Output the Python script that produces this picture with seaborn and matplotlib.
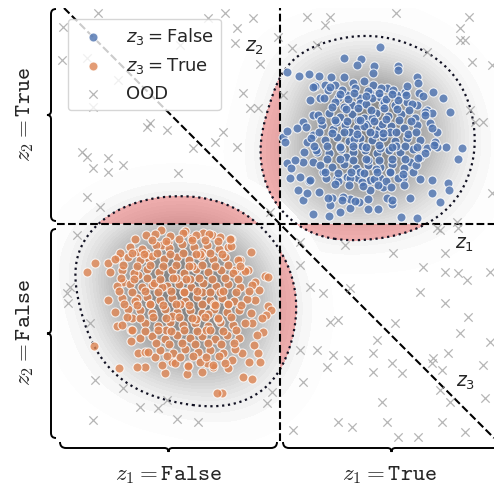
import numpy as np
import pandas as pd
import matplotlib
matplotlib.use("Agg")
import matplotlib.pyplot as plt
import seaborn as sns
from matplotlib.path import Path
from matplotlib.patches import PathPatch
from matplotlib.colors import ListedColormap
import matplotlib.transforms as mtransforms

# ---------------- data (units: reference pixels, origin at the crossing) ----------------
blue_pts = [
    (100,177),(64,166),(81,165),(77,159),(94,158),(93,151),(118,158),(118,154),
    (7,152),(19,148),(29,150),(39,148),(51,147),(64,147),(55,139),(35,138),(45,139),(73,141),(84,143),(93,139),
    (137,147),(138,141),(139,131),(153,132),(163,126),(170,112),(147,114),(152,111),
    (182,76),(178,65),(166,77),(157,77),
    (152,44),(168,41),(169,34),(160,22),(152,31),(130,26),(121,7),(137,6),
    (3,87),(7,93),(5,82),(7,61),(10,46),(18,34),(23,24),(33,10),(49,8),(60,12),(70,16),(88,15),(98,15),
    (112,20),(107,26),(103,37),(90,34),(79,22),(70,25),(63,27),(52,26),(50,19),(39,32),(27,31),(29,43),
    (20,47),(11,56),(23,62),(15,64),
    (23,102),(17,96),(33,109),(33,89),(27,82),(37,72),(33,62),(43,52),(57,46),(67,47),(78,46),(90,44),
    (100,46),(110,52),(123,46),(133,52),(130,62),(140,67),(147,76),(155,82),(157,92),(150,101),(145,112),(137,119),
    (33,137),(40,126),(48,134),(58,126),(67,129),(72,119),(80,126),(90,131),(100,127),(107,136),(117,129),
    (127,122),(125,132),(115,119),(103,119),
    (50,137),(62,134),(75,136),(88,133),(101,136),(113,134),(127,138),
    (30,124),(44,126),(55,122),(68,125),(80,121),(92,126),(104,122),(118,124),(132,120),
    (38,109),(49,111),(60,107),(72,110),(84,106),(96,111),(108,108),(121,110),(135,106),(145,109),
    (26,97),(42,99),(53,95),(65,99),(77,96),(88,100),(99,95),(111,98),(124,96),(137,99),(152,96),
    (31,86),(45,84),(57,87),(69,83),(80,86),(92,84),(103,87),(115,83),(127,86),(140,84),
    (24,72),(36,74),(49,71),(61,75),(73,72),(85,74),(97,71),(109,74),(120,72),(133,75),(145,71),
    (40,59),(52,57),(64,60),(76,56),(88,59),(100,57),(112,60),(124,56),(136,59),
    (30,44),(46,46),(58,43),(70,46),(82,42),(94,45),(106,43),(118,46),(140,45),
    (48,26),(62,24),(75,23),(88,25),(112,24),
    (70,92),(82,78),(95,90),(78,104),(60,78),(100,76),(88,64),(66,67),(110,92),(84,98),(74,85),(92,106),
    (56,102),(116,78),(102,100),(80,52),(96,55),(64,117),(86,120),(106,125),
    (60,130),(74,131),(86,128),(99,131),(112,130),(126,129),(143,128),
    (52,117),(66,115),(78,116),(91,114),(104,116),(117,115),(129,114),
    (41,104),(55,104),(67,103),(80,104),(94,103),(106,105),(119,104),(131,103),
    (39,92),(52,91),(64,92),(77,90),(90,92),(103,91),(116,92),(128,90),(136,92),
    (34,78),(47,78),(60,77),(73,78),(86,77),(99,79),(112,77),(125,78),(137,77),(154,79),
    (47,65),(60,65),(73,64),(86,65),(99,64),(112,65),(125,65),(138,66),
    (45,52),(58,51),(71,52),(84,51),(97,52),(110,52),(123,50),
    (55,40),(69,39),(83,38),(98,39),(111,37),(124,39),
]

orange_pts = [
    (-119,-6),(-95,-7),(-134,-11),(-145,-15),(-77,-9),(-68,-11),(-49,-15),(-29,-28),(-35,-46),(-15,-52),
    (-12,-53),(-21,-66),(-12,-82),(-9,-86),(-14,-91),(-17,-108),(-23,-111),(-26,-121),(-22,-129),(-20,-138),
    (-31,-138),(-37,-153),(-28,-155),(-58,-169),(-63,-169),(-52,-144),(-67,-143),(-78,-148),(-93,-150),
    (-115,-149),(-135,-143),(-143,-143),(-161,-144),(-186,-122),(-163,-102),(-149,-117),(-142,-129),(-149,-106),
    (-193,-48),(-185,-39),(-172,-39),(-162,-33),(-160,-29),(-142,-28),(-132,-34),(-157,-58),(-152,-85),
    (-143,-74),(-148,-94),(-142,-51),(-128,-61),(-134,-29),(-118,-21),(-112,-18),(-88,-14),(-78,-28),
    (-52,-23),(-40,-36),(-45,-46),(-32,-46),(-25,-58),(-25,-76),(-18,-94),(-28,-99),(-38,-129),(-48,-136),
    (-73,-139),(-92,-141),(-108,-138),(-125,-133),(-135,-128),
    (-125,-10),(-110,-12),(-97,-9),(-84,-11),(-71,-10),(-60,-13),
    (-150,-23),(-138,-25),(-124,-21),(-111,-24),(-98,-20),(-86,-23),(-73,-21),(-61,-25),(-49,-22),
    (-165,-35),(-152,-33),(-140,-36),(-128,-32),(-116,-35),(-103,-33),(-91,-36),(-79,-32),(-67,-35),(-55,-33),(-42,-36),
    (-170,-48),(-158,-46),(-146,-49),(-133,-45),(-121,-48),(-108,-46),(-96,-49),(-84,-45),(-72,-48),(-59,-46),(-47,-49),(-35,-47),
    (-163,-62),(-150,-60),(-138,-63),(-126,-59),(-113,-62),(-101,-60),(-89,-63),(-77,-59),(-64,-62),(-52,-60),(-40,-63),(-28,-61),
    (-172,-76),(-158,-74),(-145,-77),(-133,-73),(-120,-76),(-108,-74),(-95,-77),(-83,-73),(-70,-76),(-58,-74),(-46,-77),(-33,-75),
    (-165,-88),(-140,-86),(-128,-89),(-115,-85),(-103,-88),(-90,-86),(-78,-89),(-66,-85),(-53,-88),(-41,-86),(-29,-89),
    (-158,-101),(-135,-99),(-122,-102),(-110,-98),(-97,-101),(-85,-99),(-72,-102),(-60,-98),(-47,-101),(-35,-99),
    (-140,-114),(-128,-112),(-115,-115),(-103,-111),(-90,-114),(-78,-112),(-65,-115),(-53,-111),(-41,-114),
    (-132,-128),(-120,-126),(-107,-129),(-95,-125),(-82,-128),(-70,-126),(-57,-129),(-45,-125),
    (-118,-141),(-105,-139),(-92,-142),(-80,-138),(-67,-141),(-55,-139),
    (-90,-55),(-78,-68),(-66,-80),(-100,-80),(-84,-95),(-72,-90),(-96,-68),(-108,-92),(-60,-68),(-118,-63),
    (-88,-42),(-74,-106),(-104,-54),(-62,-95),(-52,-80),(-114,-106),(-80,-30),(-130,-80),
    (-128,-16),(-114,-17),(-101,-15),(-88,-16),(-75,-16),(-62,-17),(-50,-15),
    (-148,-29),(-136,-30),(-123,-29),(-110,-30),(-97,-29),(-84,-30),(-70,-29),(-58,-30),
    (-157,-41),(-143,-42),(-130,-41),(-117,-42),(-104,-41),(-91,-42),(-78,-41),(-65,-42),(-52,-41),(-40,-42),
    (-159,-54),(-146,-55),(-133,-54),(-120,-55),(-107,-54),(-94,-55),(-81,-54),(-68,-55),(-55,-54),(-42,-55),
    (-161,-67),(-148,-68),(-135,-67),(-122,-68),(-109,-67),(-96,-68),(-83,-67),(-70,-68),(-57,-67),(-44,-68),(-31,-67),
    (-156,-80),(-143,-81),(-130,-80),(-117,-81),(-104,-80),(-91,-81),(-78,-80),(-65,-81),(-52,-80),(-39,-81),
    (-153,-93),(-140,-94),(-127,-93),(-114,-94),(-101,-93),(-88,-94),(-75,-93),(-62,-94),(-49,-93),
    (-148,-106),(-135,-107),(-122,-106),(-109,-107),(-96,-106),(-83,-107),(-70,-106),(-57,-107),(-44,-106),
    (-124,-119),(-111,-120),(-98,-119),(-85,-120),(-72,-119),(-59,-120),(-46,-119),
    (-113,-132),(-100,-133),(-87,-132),(-74,-133),(-61,-132),
]

ood_pts = [
    (-182,211),(-217,197),(-218,164),(-187,117),(-162,144),(-193,166),(-100,179),(-72,206),(-55,211),
    (-43,196),(-45,181),(-27,206),(-37,131),(-30,116),(-22,116),(-130,101),(-133,97),(-113,94),(-57,92),
    (-65,82),(-43,77),(-87,76),(-198,72),(-193,67),(-187,56),(-172,66),(-172,52),(-157,59),(-102,51),
    (-193,27),(-180,17),(-20,160),(-10,12),
    (27,207),(45,199),(50,207),(116,211),(189,207),(180,196),(180,184),(185,184),(192,162),(212,159),
    (-2,187),(12,176),(37,179),(147,172),(3,129),(190,114),(203,102),(195,102),(212,31),(177,2),
    (160,-6),(113,-29),(65,-21),(165,-29),(178,-4),(157,-4),(165,-48),(178,-49),(187,-56),(210,-48),
    (143,-43),(20,-41),(30,-63),(43,-69),(70,-64),(140,-68),(165,-79),(188,-93),(180,-109),(50,-98),
    (58,-96),(115,-99),(97,-116),(210,-118),(20,-126),(37,-126),(53,-131),(68,-136),(47,-143),(93,-129),
    (93,-148),(112,-139),(122,-149),(152,-139),(153,-134),(168,-129),(203,-141),(162,-146),(23,-158),
    (-8,-168),(-13,-179),(102,-178),(160,-166),(170,-178),(205,-174),(13,-206),(58,-198),(72,-203),
    (107,-198),(162,-198),(185,-208),(138,-213),(118,-213),(20,-18),
    (-203,-11),(-210,-63),(-213,-69),(-212,-79),(-190,-99),(-185,-156),(-157,-164),(-140,-183),
    (-122,-184),(-113,-176),(-103,-195),(-82,-198),(-187,-196),
]

legend_labels = [r"$z_3 = \mathrm{False}$", r"$z_3 = \mathrm{True}$", "OOD"]
line_labels = ["$z_1$", "$z_2$", "$z_3$"]
x_group_labels = [r"$z_1 = \mathtt{False}$", r"$z_1 = \mathtt{True}$"]
y_group_labels = [r"$z_2 = \mathtt{True}$", r"$z_2 = \mathtt{False}$"]

# ---------------- styling ----------------
sns.set_theme(style="white")
plt.rcParams["font.family"] = ["DejaVu Sans"]

BLUE = "#4C72B0"
ORANGE = "#DD8452"
RED = "#ec5c5c"
LEVEL = 0.08
BW = 1.85

W, H = 494, 487
fig = plt.figure(figsize=(W / 100, H / 100), dpi=100)
ax_l, ax_r, ax_t, ax_b = 57, 494, 8, 441
ax = fig.add_axes([ax_l / W, 1 - ax_b / H, (ax_r - ax_l) / W, (ax_b - ax_t) / H])

bx, by = np.array(blue_pts, float).T
ox, oy = np.array(orange_pts, float).T
qx, qy = np.array(ood_pts, float).T
clusters = [
    (pd.DataFrame({"x": bx, "y": by}), [(-400, -400), (400, -400), (400, 0), (0, 0), (0, 400), (-400, 400)]),
    (pd.DataFrame({"x": ox, "y": oy}), [(400, 400), (-400, 400), (-400, 0), (0, 0), (0, -400), (400, -400)]),
]

grey_cmap = sns.blend_palette(["#ffffff", "#e6e6e6", "#cbcbcb", "#b0b0b0", "#959595", "#828282"], as_cmap=True)
for df, _ in clusters:
    sns.kdeplot(data=df, x="x", y="y", fill=True, levels=40, thresh=0.006, cmap=grey_cmap,
                bw_adjust=BW, gridsize=200, ax=ax, zorder=0)

for df, outside in clusters:
    n0 = len(ax.collections)
    sns.kdeplot(data=df, x="x", y="y", fill=True, levels=[LEVEL, 1], cmap=ListedColormap([RED]),
                bw_adjust=BW, gridsize=200, ax=ax, zorder=1, alpha=0.45)
    clip_patch = PathPatch(Path(outside + [outside[0]], closed=True), transform=ax.transData)
    for c in ax.collections[n0:]:
        c.set_clip_path(clip_patch)
    sns.kdeplot(data=df, x="x", y="y", levels=[LEVEL], color="#111122", linestyles=":",
                linewidths=1.6, bw_adjust=BW, gridsize=200, ax=ax, zorder=2)

ax.axvline(0, color="black", ls="--", lw=1.5, zorder=3)
ax.axhline(0, color="black", ls="--", lw=1.5, zorder=3)
ax.axline((0, 0), slope=-1, color="black", ls="--", lw=1.5, zorder=3)

ax.scatter(qx, qy, marker="x", s=36, color="0.62", linewidths=0.9, alpha=0.75, zorder=3.5, label=legend_labels[2])
sns.scatterplot(x=bx, y=by, color=BLUE, s=42, edgecolor="white", linewidth=0.8, alpha=0.8, ax=ax, zorder=4, label=legend_labels[0])
sns.scatterplot(x=ox, y=oy, color=ORANGE, s=42, edgecolor="white", linewidth=0.8, alpha=0.8, ax=ax, zorder=4, label=legend_labels[1])

ax.set_xlim(ax_l - 280, ax_r - 280)
ax.set_ylim(224 - ax_b, 224 - ax_t)
ax.set_axis_off()

handles, labels = ax.get_legend_handles_labels()
order = [labels.index(l) for l in legend_labels]
leg = ax.legend([handles[i] for i in order], [labels[i] for i in order], loc="upper left",
                fontsize=13, framealpha=0.8, edgecolor="0.8", borderaxespad=0.6)
leg.set_zorder(10)

ax.text(-25, 176, line_labels[1], fontsize=13.5, ha="center", va="center", zorder=5)
ax.text(185, -21, line_labels[0], fontsize=13.5, ha="center", va="center", zorder=5)
ax.text(186, -159, line_labels[2], fontsize=13.5, ha="center", va="center", zorder=5)

pix = mtransforms.Affine2D().scale(1 / W, -1 / H).translate(0, 1) + fig.transFigure

def hbrace(x0, x1, y, d=6, tip=4):
    xm = (x0 + x1) / 2
    return [(x0, y - d), (x0, y), (x0 + d, y), (xm - tip, y), (xm, y), (xm, y + tip),
            (xm, y), (xm + tip, y), (x1 - d, y), (x1, y), (x1, y - d)]

def vbrace(y0, y1, x, d=5, tip=4):
    ym = (y0 + y1) / 2
    return [(x + d, y0), (x, y0), (x, y0 + d), (x, ym - tip), (x, ym), (x - tip, ym),
            (x, ym), (x, ym + tip), (x, y1 - d), (x, y1), (x + d, y1)]

codes = [Path.MOVETO, Path.CURVE3, Path.CURVE3, Path.LINETO, Path.CURVE3, Path.CURVE3,
         Path.CURVE3, Path.CURVE3, Path.LINETO, Path.CURVE3, Path.CURVE3]
for verts in [hbrace(60, 277, 448), hbrace(283, 500, 448), vbrace(9, 221, 51), vbrace(229, 438, 51)]:
    fig.add_artist(PathPatch(Path(verts, codes), transform=pix, fill=False, lw=1.4, edgecolor="black"))

fs = 16.5
kw = dict(transform=pix, ha="center", va="center", fontsize=fs, math_fontfamily="cm")
fig.text(168.5, 474, x_group_labels[0], **kw)
fig.text(389, 474, x_group_labels[1], **kw)
fig.text(24, 115, y_group_labels[0], rotation=90, **kw)
fig.text(24, 333, y_group_labels[1], rotation=90, **kw)

fig.savefig("out.png", dpi=100)
